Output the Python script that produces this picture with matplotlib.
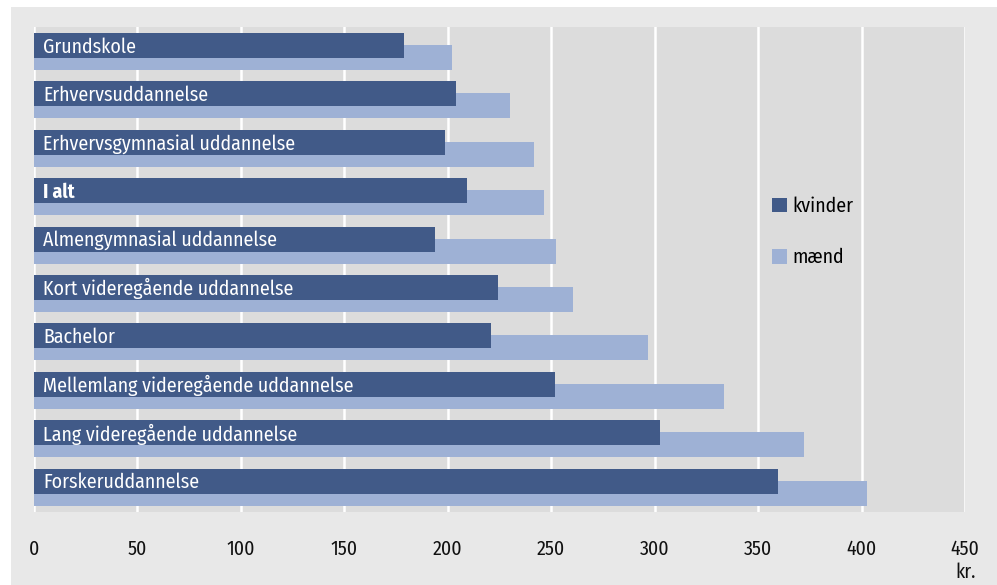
import matplotlib
matplotlib.use("Agg")
import matplotlib.pyplot as plt
from matplotlib.patches import Patch, Rectangle
import numpy as np

categories = ["Grundskole", "Erhvervsuddannelse", "Erhvervsgymnasial uddannelse", "I alt",
              "Almengymnasial uddannelse", "Kort videregående uddannelse", "Bachelor",
              "Mellemlang videregående uddannelse", "Lang videregående uddannelse",
              "Forskeruddannelse"]
kvinder = [178.7, 203.8, 198.5, 209.1, 193.6, 224.5, 221.1, 251.6, 302.8, 359.7]
maend = [201.8, 230.3, 241.9, 246.7, 252.5, 260.7, 297.0, 333.7, 372.3, 402.7]
xticks = [0, 50, 100, 150, 200, 250, 300, 350, 400, 450]
series_names = ["kvinder", "mænd"]

C_K = "#415a88"
C_M = "#9eb1d5"
FONT = ["Fira Sans Condensed", "DejaVu Sans"]
plt.rcParams["font.family"] = FONT
FS = 14.3

W, H = 997, 585
fig = plt.figure(figsize=(W / 100, H / 100), dpi=100)
fig.patch.set_facecolor("white")
fig.patches.append(Rectangle((11 / W, 0), 1 - 11 / W, 1 - 7 / H, transform=fig.transFigure,
                             facecolor="#e8e8e8", edgecolor="none", zorder=-5))

ax = fig.add_axes([34 / W, 1 - 512 / H, (965 - 34) / W, (512 - 27) / H])
ax.set_zorder(1)
ax.set_facecolor("#dcdcdc")

y = np.arange(len(categories))
h = 0.515
off = 0.124
ax.barh(y + off, maend, height=h, color=C_M, zorder=2, label=series_names[1])
ax.barh(y - off, kvinder, height=h, color=C_K, zorder=3, label=series_names[0])

for i, c in enumerate(categories):
    ax.annotate(c, xy=(0, i - off), xytext=(6.5, -1), textcoords="offset points",
                ha="left", va="center", color="white", fontsize=FS,
                fontweight="bold" if c == "I alt" else "normal", zorder=4)

ax.set_xlim(0, 450)
ax.set_ylim(9.514, -0.506)
ax.set_xticks(xticks)
ax.set_xticklabels([str(t) for t in xticks], fontsize=FS, color="#111111")
ax.set_yticks([])
ax.tick_params(axis="x", length=0, pad=20)
ax.grid(axis="x", color="white", linewidth=1.8, zorder=1)
ax.set_axisbelow(True)
for s in ax.spines.values():
    s.set_visible(False)

handles = [Patch(facecolor=C_K, edgecolor="none"), Patch(facecolor=C_M, edgecolor="none")]
leg = fig.legend(handles, series_names, loc="center left", bbox_to_anchor=(772 / W, 1 - 232 / H),
                 bbox_transform=fig.transFigure, frameon=False, fontsize=FS,
                 handlelength=0.75, handleheight=0.75, handletextpad=0.3, labelspacing=1.6,
                 borderpad=0, borderaxespad=0)
leg.set_zorder(5)

fig.text(976 / W, 1 - 572 / H, "kr.", ha="right", va="center", fontsize=FS, color="#111111")

fig.savefig("out.png", dpi=100, facecolor=fig.get_facecolor())
